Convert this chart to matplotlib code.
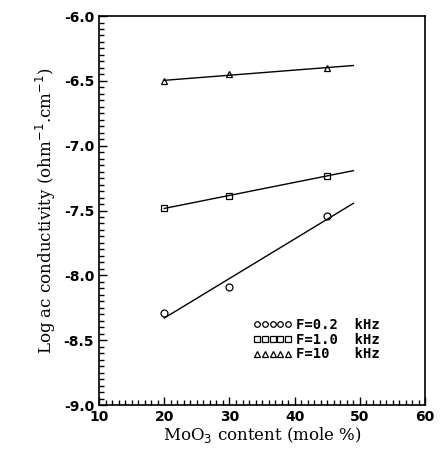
import numpy as np
import matplotlib
matplotlib.use('Agg')
import matplotlib.pyplot as plt
from matplotlib.ticker import MultipleLocator, FormatStrFormatter

# MoO3 content (mole %)
moo3 = [20, 30, 45]
# log ac conductivity at each frequency
sigma_02 = [-8.29, -8.09, -7.54]
sigma_10 = [-7.48, -7.39, -7.23]
sigma_100 = [-6.50, -6.45, -6.40]
labels = ['F=0.2  kHz', 'F=1.0  kHz', 'F=10   kHz']
markers = ['o', 's', '^']

fig = plt.figure(figsize=(4.45, 4.59), dpi=100)
ax = fig.add_axes([0.2225, 0.1176, 0.733, 0.8475])

xfit = np.array([20, 49])
for ys, lab, m in zip([sigma_02, sigma_10, sigma_100], labels, markers):
    k, b = np.polyfit(moo3, ys, 1)
    ax.plot(xfit, k * xfit + b, color='black', lw=1.0)
    ax.plot(moo3, ys, linestyle='-', lw=0, marker=m, ms=5, mfc='none',
            mec='black', mew=0.9, label=lab)

ax.set_xlim(10, 60)
ax.set_ylim(-9.0, -6.0)
ax.xaxis.set_major_locator(MultipleLocator(10))
ax.xaxis.set_minor_locator(MultipleLocator(1))
ax.yaxis.set_major_locator(MultipleLocator(0.5))
ax.yaxis.set_minor_locator(MultipleLocator(0.05))
ax.yaxis.set_major_formatter(FormatStrFormatter('%.1f'))
ax.tick_params(which='both', direction='in', top=False, right=False, width=1.0)
ax.tick_params(which='major', length=6, labelsize=10)
ax.tick_params(which='minor', length=3.5)
for t in ax.get_xticklabels() + ax.get_yticklabels():
    t.set_fontweight('bold')
for s in ax.spines.values():
    s.set_linewidth(1.2)

ax.set_xlabel(r'MoO$_3$ content (mole %)', family='DejaVu Serif', fontsize=12, labelpad=1)
ax.set_ylabel(r'Log ac conductivity (ohm$^{-1}$.cm$^{-1}$)', family='DejaVu Serif',
              fontsize=12, labelpad=4)

leg = ax.legend(loc='lower right', bbox_to_anchor=(0.90, 0.08), frameon=False,
                numpoints=5, markerscale=0.8, handlelength=2.8, handletextpad=0.3,
                labelspacing=0.05, prop={'family': 'DejaVu Sans Mono', 'weight': 'bold', 'size': 10})

fig.savefig('out.png', dpi=100)
